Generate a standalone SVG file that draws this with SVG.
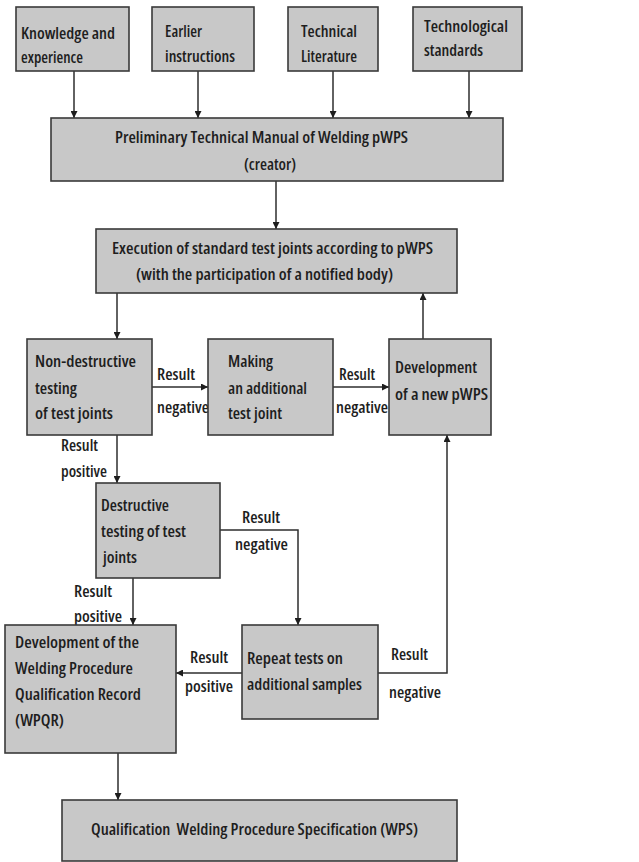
<svg xmlns="http://www.w3.org/2000/svg" width="639" height="862" viewBox="0 0 639 862">
<defs>
<style>
.box{fill:#c8c8c8;stroke:#3a3a3a;stroke-width:1.6}
.t{font-family:"Open Sans","Noto Sans","Liberation Sans",sans-serif;font-size:16.5px;font-weight:600;font-stretch:condensed;fill:#1e1e1e}
.ln{fill:none;stroke:#2e2e2e;stroke-width:1.5}
</style>
<marker id="ah" viewBox="0 0 10 10" refX="10" refY="5" markerWidth="7" markerHeight="7" markerUnits="userSpaceOnUse" orient="auto">
<path d="M0,0 L10,5 L0,10 z" fill="#1e1e1e"/>
</marker>
</defs>
<rect width="639" height="862" fill="#ffffff"/>

<g id="connectors">
<path class="ln" d="M74,71 V118" marker-end="url(#ah)"/>
<path class="ln" d="M198,71 V118" marker-end="url(#ah)"/>
<path class="ln" d="M333,71 V118" marker-end="url(#ah)"/>
<path class="ln" d="M469,71 V118" marker-end="url(#ah)"/>
<path class="ln" d="M276,181 V229" marker-end="url(#ah)"/>
<path class="ln" d="M117,293 V339" marker-end="url(#ah)"/>
<path class="ln" d="M423,339 V293" marker-end="url(#ah)"/>
<path class="ln" d="M152,387 H208" marker-end="url(#ah)"/>
<path class="ln" d="M333,387 H389" marker-end="url(#ah)"/>
<path class="ln" d="M117,435 V483" marker-end="url(#ah)"/>
<path class="ln" d="M220,530 H298 V625" marker-end="url(#ah)"/>
<path class="ln" d="M133,578 V625" marker-end="url(#ah)"/>
<path class="ln" d="M378,673 H447 V435" marker-end="url(#ah)"/>
<path class="ln" d="M242,673 H176" marker-end="url(#ah)"/>
<path class="ln" d="M118,753 V800" marker-end="url(#ah)"/>
<text class="t" x="157" y="380" textLength="38" lengthAdjust="spacingAndGlyphs">Result</text>
<text class="t" x="157" y="413" textLength="52" lengthAdjust="spacingAndGlyphs">negative</text>
<text class="t" x="339" y="380" textLength="36" lengthAdjust="spacingAndGlyphs">Result</text>
<text class="t" x="336" y="413" textLength="52" lengthAdjust="spacingAndGlyphs">negative</text>
<text class="t" x="61" y="451" textLength="37" lengthAdjust="spacingAndGlyphs">Result</text>
<text class="t" x="61" y="477" textLength="46" lengthAdjust="spacingAndGlyphs">positive</text>
<text class="t" x="242" y="523" textLength="38" lengthAdjust="spacingAndGlyphs">Result</text>
<text class="t" x="235" y="550" textLength="53" lengthAdjust="spacingAndGlyphs">negative</text>
<text class="t" x="74" y="597" textLength="38" lengthAdjust="spacingAndGlyphs">Result</text>
<text class="t" x="74" y="622" textLength="48" lengthAdjust="spacingAndGlyphs">positive</text>
<text class="t" x="190" y="663" textLength="38" lengthAdjust="spacingAndGlyphs">Result</text>
<text class="t" x="185" y="692" textLength="48" lengthAdjust="spacingAndGlyphs">positive</text>
<text class="t" x="391" y="660" textLength="37" lengthAdjust="spacingAndGlyphs">Result</text>
<text class="t" x="389" y="698" textLength="52" lengthAdjust="spacingAndGlyphs">negative</text>
</g>

<g id="n-knowledge">
<rect class="box" x="16" y="7" width="113" height="64"/>
<text class="t" x="21" y="39" textLength="94" lengthAdjust="spacingAndGlyphs">Knowledge and</text>
<text class="t" x="21" y="63" textLength="62" lengthAdjust="spacingAndGlyphs">experience</text>
</g>
<g id="n-earlier">
<rect class="box" x="152" y="7" width="102" height="64"/>
<text class="t" x="165" y="37" textLength="37" lengthAdjust="spacingAndGlyphs">Earlier</text>
<text class="t" x="165" y="62" textLength="70" lengthAdjust="spacingAndGlyphs">instructions</text>
</g>
<g id="n-literature">
<rect class="box" x="288" y="7" width="90" height="64"/>
<text class="t" x="301" y="37" textLength="56" lengthAdjust="spacingAndGlyphs">Technical</text>
<text class="t" x="301" y="62" textLength="56" lengthAdjust="spacingAndGlyphs">Literature</text>
</g>
<g id="n-standards">
<rect class="box" x="413" y="7" width="109" height="64"/>
<text class="t" x="424" y="32" textLength="84" lengthAdjust="spacingAndGlyphs">Technological</text>
<text class="t" x="424" y="56" textLength="59" lengthAdjust="spacingAndGlyphs">standards</text>
</g>
<g id="n-pwps">
<rect class="box" x="51" y="118" width="452" height="63"/>
<text class="t" x="115" y="143" textLength="293" lengthAdjust="spacingAndGlyphs">Preliminary Technical Manual of Welding pWPS</text>
<text class="t" x="244" y="170" textLength="52" lengthAdjust="spacingAndGlyphs">(creator)</text>
</g>
<g id="n-execution">
<rect class="box" x="96" y="229" width="361" height="64"/>
<text class="t" x="112" y="254" textLength="321" lengthAdjust="spacingAndGlyphs">Execution of standard test joints according to pWPS</text>
<text class="t" x="136" y="280" textLength="257" lengthAdjust="spacingAndGlyphs">(with the participation of a notified body)</text>
</g>
<g id="n-ndt">
<rect class="box" x="27" y="339" width="125" height="96"/>
<text class="t" x="35" y="367" textLength="101" lengthAdjust="spacingAndGlyphs">Non-destructive</text>
<text class="t" x="35" y="394" textLength="42" lengthAdjust="spacingAndGlyphs">testing</text>
<text class="t" x="35" y="419" textLength="78" lengthAdjust="spacingAndGlyphs">of test joints</text>
</g>
<g id="n-additional">
<rect class="box" x="208" y="339" width="125" height="96"/>
<text class="t" x="228" y="367" textLength="45" lengthAdjust="spacingAndGlyphs">Making</text>
<text class="t" x="228" y="394" textLength="79" lengthAdjust="spacingAndGlyphs">an additional</text>
<text class="t" x="228" y="419" textLength="54" lengthAdjust="spacingAndGlyphs">test joint</text>
</g>
<g id="n-newpwps">
<rect class="box" x="389" y="339" width="102" height="96"/>
<text class="t" x="395" y="373" textLength="82" lengthAdjust="spacingAndGlyphs">Development</text>
<text class="t" x="395" y="400" textLength="93" lengthAdjust="spacingAndGlyphs">of a new pWPS</text>
</g>
<g id="n-destructive">
<rect class="box" x="96" y="483" width="124" height="95"/>
<text class="t" x="101" y="511" textLength="68" lengthAdjust="spacingAndGlyphs">Destructive</text>
<text class="t" x="101" y="537" textLength="85" lengthAdjust="spacingAndGlyphs">testing of test</text>
<text class="t" x="103" y="563" textLength="34" lengthAdjust="spacingAndGlyphs">joints</text>
</g>
<g id="n-wpqr">
<rect class="box" x="5" y="625" width="171" height="128"/>
<text class="t" x="15" y="648" textLength="124" lengthAdjust="spacingAndGlyphs">Development of the</text>
<text class="t" x="15" y="674" textLength="118" lengthAdjust="spacingAndGlyphs">Welding Procedure</text>
<text class="t" x="15" y="700" textLength="126" lengthAdjust="spacingAndGlyphs">Qualification Record</text>
<text class="t" x="15" y="726" textLength="49" lengthAdjust="spacingAndGlyphs">(WPQR)</text>
</g>
<g id="n-repeat">
<rect class="box" x="242" y="625" width="136" height="94"/>
<text class="t" x="247" y="664" textLength="96" lengthAdjust="spacingAndGlyphs">Repeat tests on</text>
<text class="t" x="247" y="690" textLength="115" lengthAdjust="spacingAndGlyphs">additional samples</text>
</g>
<g id="n-wps">
<rect class="box" x="62" y="800" width="395" height="61"/>
<text class="t" x="91" y="835" textLength="327" lengthAdjust="spacingAndGlyphs" xml:space="preserve">Qualification  Welding Procedure Specification (WPS)</text>
</g>
</svg>
